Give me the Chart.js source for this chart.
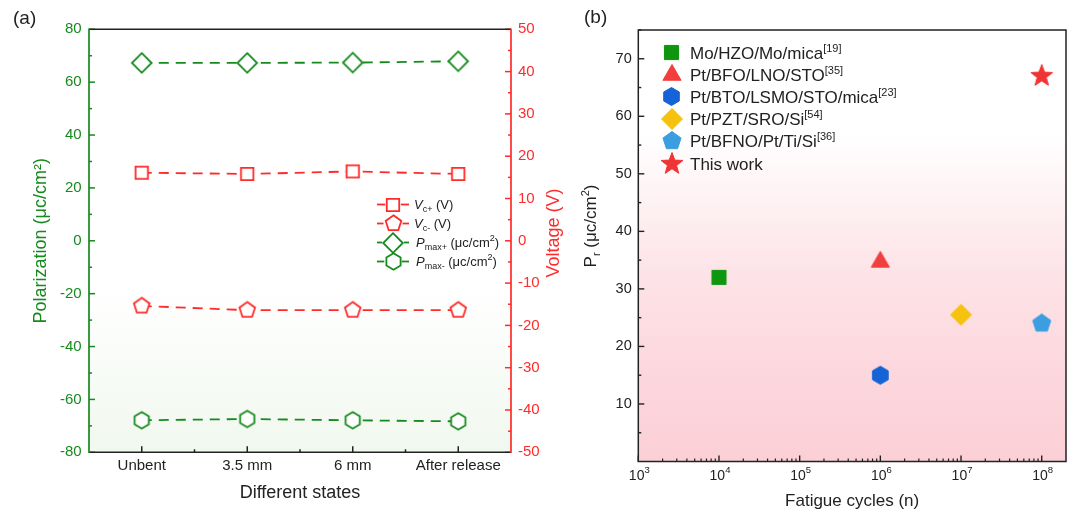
<!DOCTYPE html>
<html><head><meta charset="utf-8">
<script src="https://cdn.jsdelivr.net/npm/chart.js@4/dist/chart.umd.min.js"></script>
<style>
html,body{margin:0;padding:0;background:#fff;width:1077px;height:514px;overflow:hidden;}
#wa{position:absolute;left:0;top:0;width:575px;height:514px;}
#wb{position:absolute;left:575px;top:0;width:502px;height:514px;}
</style></head><body>
<div id="wa"><canvas id="ca" width="575" height="514"></canvas></div>
<div id="wb"><canvas id="cb" width="502" height="514"></canvas></div>
<script>
// ---------- data: panel (a) ----------
const stateLabels = ['Unbent', '3.5 mm', '6 mm', 'After release'];
const vcPlus    = [16.1, 15.8, 16.4, 15.8];
const vcMinus   = [-15.4, -16.4, -16.4, -16.4];
const pmaxPlus  = [67.3, 67.3, 67.4, 67.9];
const pmaxMinus = [-67.9, -67.4, -67.9, -68.3];

// ---------- data: panel (b) ----------
const refNames = ['Mo/HZO/Mo/mica', 'Pt/BFO/LNO/STO', 'Pt/BTO/LSMO/STO/mica', 'Pt/PZT/SRO/Si', 'Pt/BFNO/Pt/Ti/Si', 'This work'];
const refTags  = ['[19]', '[35]', '[23]', '[54]', '[36]', ''];
const fatigueCycles = [1e4, 1e6, 1e6, 1e7, 1e8, 1e8];
const remanentPol   = [32, 34.7, 15, 25.5, 24, 67];
const logTickExps   = [3, 4, 5, 6, 7, 8];

const F = '"Liberation Sans", Arial, sans-serif';
Chart.defaults.font.family = F;
const GREEN = '#178a1e', RED = '#ff2b2b', INK = '#222';

function shapeCanvas(pts, stroke, fill, lw, half) {
  const s = Math.ceil(2 * half + lw + 4);
  const c = document.createElement('canvas'); c.width = s; c.height = s;
  const g = c.getContext('2d');
  g.beginPath();
  pts.forEach((p, i) => { const px = s / 2 + p[0], py = s / 2 + p[1]; i ? g.lineTo(px, py) : g.moveTo(px, py); });
  g.closePath();
  if (fill) { g.fillStyle = fill; g.fill(); }
  if (stroke) { g.lineWidth = lw; g.strokeStyle = stroke; g.lineJoin = 'miter'; g.stroke(); }
  return c;
}
function poly(n, r, rot, stroke, fill, lw) {
  const pts = [];
  for (let i = 0; i < n; i++) { const a = rot + i * 2 * Math.PI / n; pts.push([r * Math.sin(a), -r * Math.cos(a)]); }
  return shapeCanvas(pts, stroke, fill, lw, r);
}
function star(R, r, stroke, fill, lw) {
  const pts = [];
  for (let i = 0; i < 10; i++) { const a = i * Math.PI / 5; const rr = i % 2 ? r : R; pts.push([rr * Math.sin(a), -rr * Math.cos(a)]); }
  return shapeCanvas(pts, stroke, fill, lw, R);
}

// markers (a)
const mSquareA  = poly(4, 8.8, Math.PI / 4, RED, '#fff', 1.8);
const mPentA    = poly(5, 8.2, 0, RED, '#fff', 1.8);
const mDiamondA = poly(4, 9.8, 0, GREEN, '#fff', 1.8);
const mHexA     = poly(6, 8.2, 0, GREEN, '#fff', 1.8);
// markers (b)
const markersB = [
  poly(4, 10, Math.PI / 4, '#0f960f', '#0f960f', 1),
  poly(3, 10.5, 0, '#f23e3e', '#f23e3e', 1),
  poly(6, 9, 0, '#1563d6', '#1563d6', 1),
  poly(4, 10.5, 0, '#f5c20f', '#f5c20f', 1),
  poly(5, 9.5, 0, '#3a9ee0', '#3a9ee0', 1),
  star(11.5, 4.8, '#ef3434', '#ef3434', 1)
];

function rich(ctx, parts, x, y, align, color) {
  ctx.fillStyle = color; ctx.textBaseline = 'alphabetic'; ctx.textAlign = 'left';
  let w = 0;
  parts.forEach(p => { ctx.font = (p.i ? 'italic ' : '') + p.s + 'px ' + F; p.w = ctx.measureText(p.t).width; w += p.w; });
  let cx = align === 'center' ? x - w / 2 : x;
  parts.forEach(p => { ctx.font = (p.i ? 'italic ' : '') + p.s + 'px ' + F; ctx.fillText(p.t, cx, y + (p.dy || 0)); cx += p.w; });
}
function seg(ctx, x1, y1, x2, y2, col, lw) {
  ctx.strokeStyle = col; ctx.lineWidth = lw; ctx.beginPath(); ctx.moveTo(x1, y1); ctx.lineTo(x2, y2); ctx.stroke();
}

const plugA = {
  id: 'pa',
  beforeDraw(chart) {
    const { ctx, chartArea: a } = chart;
    const g = ctx.createLinearGradient(0, a.top, 0, a.bottom);
    g.addColorStop(0, '#ffffff'); g.addColorStop(0.6, '#ffffff'); g.addColorStop(1, '#f1f8ef');
    ctx.save(); ctx.fillStyle = g; ctx.fillRect(a.left, a.top, a.right - a.left, a.bottom - a.top); ctx.restore();
  },
  afterDraw(chart) {
    const { ctx, chartArea: a, scales: { x, y, y2 } } = chart;
    ctx.save();
    for (let v = -80; v <= 80; v += 10) { const p = y.getPixelForValue(v); seg(ctx, a.left, p, a.left + (v % 20 === 0 ? 6 : 3), p, GREEN, 1.5); }
    for (let v = -50; v <= 50; v += 5) { const p = y2.getPixelForValue(v); seg(ctx, a.right, p, a.right - (v % 10 === 0 ? 6 : 3), p, RED, 1.5); }
    for (let i = 0; i < stateLabels.length; i++) { const p = x.getPixelForValue(i); seg(ctx, p, a.bottom, p, a.bottom - 6, INK, 1.5); }
    for (let i = 0; i < stateLabels.length - 1; i++) { const p = (x.getPixelForValue(i) + x.getPixelForValue(i + 1)) / 2; seg(ctx, p, a.bottom, p, a.bottom - 3, INK, 1.5); }
    seg(ctx, a.left, a.top, a.right, a.top, INK, 1.6);
    seg(ctx, a.left, a.bottom, a.right, a.bottom, INK, 1.6);
    seg(ctx, a.left, a.top - 0.8, a.left, a.bottom + 0.8, GREEN, 1.7);
    seg(ctx, a.right, a.top - 0.8, a.right, a.bottom + 0.8, RED, 1.7);
    // panel label
    ctx.fillStyle = INK; ctx.font = '19px ' + F; ctx.textBaseline = 'middle'; ctx.textAlign = 'left';
    ctx.fillText('(a)', 13, 19);
    // right axis title
    ctx.save(); ctx.translate(554, 233); ctx.rotate(-Math.PI / 2);
    ctx.fillStyle = RED; ctx.font = '18px ' + F; ctx.textAlign = 'center'; ctx.textBaseline = 'middle';
    ctx.fillText('Voltage (V)', 0, 0); ctx.restore();
    // legend
    const rows = [
      { m: mSquareA, c: RED, half: 6.3, parts: [{ t: 'V', s: 13, i: 1 }, { t: 'c+', s: 9, dy: 3 }, { t: ' (V)', s: 13 }] },
      { m: mPentA, c: RED, half: 8, parts: [{ t: 'V', s: 13, i: 1 }, { t: 'c-', s: 9, dy: 3 }, { t: ' (V)', s: 13 }] },
      { m: mDiamondA, c: GREEN, half: 9.5, parts: [{ t: 'P', s: 13, i: 1 }, { t: 'max+', s: 9, dy: 3 }, { t: ' (μc/cm', s: 13 }, { t: '2', s: 9, dy: -6 }, { t: ')', s: 13 }] },
      { m: mHexA, c: GREEN, half: 7.2, parts: [{ t: 'P', s: 13, i: 1 }, { t: 'max-', s: 9, dy: 3 }, { t: ' (μc/cm', s: 13 }, { t: '2', s: 9, dy: -6 }, { t: ')', s: 13 }] }
    ];
    const ly = [204.5, 223.5, 242.5, 261.5], cx = 393;
    rows.forEach((r, i) => {
      seg(ctx, cx - 16, ly[i], cx - r.half - 1.5, ly[i], r.c, 1.8);
      seg(ctx, cx + r.half + 1.5, ly[i], cx + 16, ly[i], r.c, 1.8);
      ctx.drawImage(r.m, Math.round(cx - r.m.width / 2), Math.round(ly[i] - r.m.height / 2));
      rich(ctx, r.parts, i < 2 ? 414 : 416, ly[i] + 4.5, 'left', INK);
    });
    ctx.restore();
  }
};

const lineDs = (label, data, axis, col, marker) => ({
  label, data, yAxisID: axis, borderColor: col, borderWidth: 1.8, borderDash: [10, 7],
  pointStyle: marker, pointRadius: 8, pointHoverRadius: 8, fill: false, tension: 0
});

new Chart(document.getElementById('ca'), {
  type: 'line',
  data: {
    labels: stateLabels,
    datasets: [
      lineDs('Vc+ (V)', vcPlus, 'y2', RED, mSquareA),
      lineDs('Vc- (V)', vcMinus, 'y2', RED, mPentA),
      lineDs('Pmax+ (μc/cm²)', pmaxPlus, 'y', GREEN, mDiamondA),
      lineDs('Pmax- (μc/cm²)', pmaxMinus, 'y', GREEN, mHexA)
    ]
  },
  options: {
    responsive: false, animation: false, devicePixelRatio: 1,
    layout: { padding: { top: 29.3, left: 0, right: 0, bottom: 0 } },
    plugins: { legend: { display: false }, tooltip: { enabled: false } },
    scales: {
      x: {
        type: 'category', offset: true,
        grid: { display: false, drawTicks: false }, border: { display: false },
        ticks: { color: INK, font: { size: 15 }, padding: 4.5, maxRotation: 0, autoSkip: false },
        title: { display: true, text: 'Different states', color: INK, font: { size: 18 }, padding: { top: 0, bottom: 10.2 } },
        afterFit(s) { s.height = 61.7; }
      },
      y: {
        position: 'left', min: -80, max: 80,
        grid: { display: false, drawTicks: false }, border: { display: false },
        ticks: { stepSize: 20, color: GREEN, font: { size: 15 }, padding: 7.3 },
        title: { display: true, text: 'Polarization (μc/cm²)', color: GREEN, font: { size: 18 }, padding: { top: 29.9, bottom: 0 } },
        afterFit(s) { s.width = 89; }
      },
      y2: {
        position: 'right', min: -50, max: 50,
        grid: { display: false, drawTicks: false }, border: { display: false },
        ticks: { stepSize: 10, color: RED, font: { size: 15 }, padding: 7 },
        afterFit(s) { s.width = 64; }
      }
    }
  },
  plugins: [plugA]
});

const plugB = {
  id: 'pb',
  beforeDraw(chart) {
    const { ctx, chartArea: a } = chart;
    const g = ctx.createLinearGradient(0, a.top, 0, a.bottom);
    g.addColorStop(0, '#ffffff'); g.addColorStop(0.24, '#ffffff'); g.addColorStop(0.55, '#fde4e8');
    g.addColorStop(0.8, '#fcd7dd'); g.addColorStop(1, '#fbcfd6');
    ctx.save(); ctx.fillStyle = g; ctx.fillRect(a.left, a.top, a.right - a.left, a.bottom - a.top); ctx.restore();
  },
  afterDraw(chart) {
    const { ctx, chartArea: a, scales: { x, y } } = chart;
    ctx.save();
    for (let v = 5; v <= 75; v += 5) { const p = y.getPixelForValue(v); seg(ctx, a.left, p, a.left + (v % 10 === 0 ? 6 : 3), p, INK, 1.4); }
    logTickExps.forEach(e => {
      const base = Math.pow(10, e);
      const p = x.getPixelForValue(base); seg(ctx, p, a.bottom, p, a.bottom - 6, INK, 1.4);
      if (e < 8) for (let k = 2; k <= 9; k++) { const q = x.getPixelForValue(k * base); seg(ctx, q, a.bottom, q, a.bottom - 3, INK, 1.2); }
      rich(ctx, [{ t: '10', s: 14 }, { t: String(e), s: 9.5, dy: -6.5 }], p + 1, 479.5, 'center', INK);
    });
    ctx.strokeStyle = INK; ctx.lineWidth = 1.5;
    ctx.strokeRect(a.left, a.top, a.right - a.left, a.bottom - a.top);
    // panel label
    ctx.fillStyle = INK; ctx.font = '19px ' + F; ctx.textBaseline = 'middle'; ctx.textAlign = 'left';
    ctx.fillText('(b)', 9, 18);
    // y title
    ctx.save(); ctx.translate(15, 226); ctx.rotate(-Math.PI / 2);
    rich(ctx, [{ t: 'P', s: 17 }, { t: 'r', s: 11, dy: 4 }, { t: ' (μc/cm', s: 17 }, { t: '2', s: 11, dy: -7 }, { t: ')', s: 17 }], 0, 6, 'center', INK);
    ctx.restore();
    // legend
    const lx = 671.7 - 575, tx = 690 - 575;
    refNames.forEach((n, i) => {
      const yy = 52.5 + i * 22.2;
      const m = markersB[i];
      ctx.drawImage(m, Math.round(lx - m.width / 2), Math.round(yy - m.height / 2));
      const parts = [{ t: n, s: 17 }];
      if (refTags[i]) parts.push({ t: refTags[i], s: 11, dy: -7 });
      rich(ctx, parts, tx, yy + 6, 'left', INK);
    });
    ctx.restore();
  }
};

new Chart(document.getElementById('cb'), {
  type: 'scatter',
  data: {
    datasets: refNames.map((n, i) => ({
      label: n + refTags[i],
      data: [{ x: fatigueCycles[i], y: remanentPol[i] }],
      pointStyle: markersB[i], pointRadius: 10, pointHoverRadius: 10, showLine: false
    }))
  },
  options: {
    responsive: false, animation: false, devicePixelRatio: 1,
    layout: { padding: { top: 30, left: 0, right: 7, bottom: 0 } },
    plugins: { legend: { display: false }, tooltip: { enabled: false } },
    scales: {
      x: {
        type: 'logarithmic', min: 1e3, max: 2e8,
        grid: { display: false, drawTicks: false }, border: { display: false },
        ticks: { display: false },
        title: { display: true, text: 'Fatigue cycles (n)', color: INK, font: { size: 17 }, padding: { top: 0, bottom: 2.1 } },
        afterFit(s) { s.height = 52.5; }
      },
      y: {
        min: 0, max: 75,
        grid: { display: false, drawTicks: false }, border: { display: false },
        ticks: { stepSize: 10, color: INK, font: { size: 14.5 }, padding: 6.6,
          callback: v => (v > 0 && v % 10 === 0) ? String(v) : '' },
        afterFit(s) { s.width = 63.3; }
      }
    }
  },
  plugins: [plugB]
});
</script>
</body></html>
